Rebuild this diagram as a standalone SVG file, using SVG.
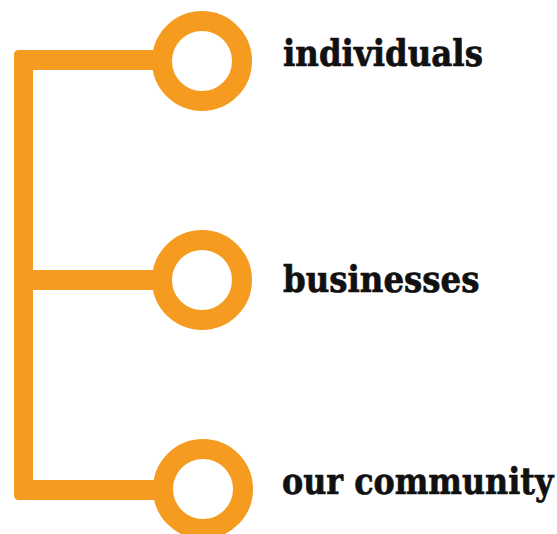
<svg xmlns="http://www.w3.org/2000/svg" width="557" height="534" viewBox="0 0 557 534">
<style>
.ring{fill:none;stroke:#F59B20;stroke-width:20}
.bar{fill:#F59B20}
.lbl{font-family:"DejaVu Serif","Liberation Serif",serif;font-weight:bold;font-size:31.8px;fill:#111;stroke:#111;stroke-width:0.6}
</style>
<rect width="557" height="534" fill="#fff"/>
<g id="connectors">
<path class="bar" d="M160 50 H19 Q14 50 14 55 V495 Q14 500 19 500 H160 V480 H33 V290 H160 V270 H33 V70 H160 Z"/>
</g>
<g id="node-individuals">
<circle class="ring" cx="202" cy="61" r="40"/>
<text class="lbl" transform="translate(283,66) scale(1.02,1.2)">individuals</text>
</g>
<g id="node-businesses">
<circle class="ring" cx="202" cy="280" r="40"/>
<text class="lbl" transform="translate(283,292) scale(1.02,1.2)">businesses</text>
</g>
<g id="node-community">
<circle class="ring" cx="203" cy="489" r="40"/>
<text class="lbl" transform="translate(282,494) scale(1,1.2)">our community</text>
</g>
</svg>
